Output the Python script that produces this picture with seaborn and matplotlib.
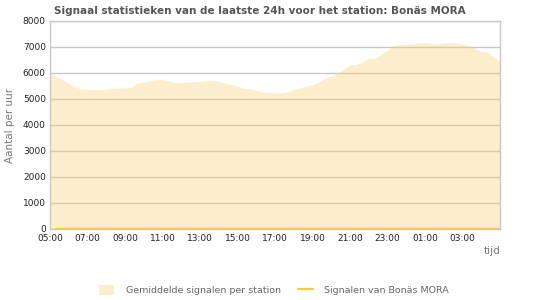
import numpy as np
import matplotlib
matplotlib.use("Agg")
import matplotlib.pyplot as plt
import seaborn as sns
from matplotlib.patches import Patch
from matplotlib.lines import Line2D
from matplotlib.ticker import MultipleLocator

# --- data: one value per 20 minutes, starting 05:00 ---
avg_signals = [
    5970, 5870, 5740, 5600, 5450, 5400, 5360, 5360, 5360, 5370, 5410, 5420,
    5420, 5460, 5620, 5650, 5710, 5740, 5740, 5700, 5650, 5630, 5650, 5670,
    5670, 5710, 5710, 5670, 5600, 5560, 5490, 5410, 5400, 5330, 5270, 5250,
    5240, 5230, 5270, 5360, 5430, 5500, 5540, 5660, 5800, 5880, 6000, 6140,
    6320, 6320, 6420, 6570, 6570, 6720, 6890, 7040, 7090, 7090, 7120, 7160,
    7160, 7140, 7120, 7160, 7160, 7160, 7110, 7050, 6950, 6830, 6800, 6600,
    6440,
]
station_signals = [0] * len(avg_signals)
hours = np.linspace(0, 24, len(avg_signals))  # hours after 05:00

tick_hours = [0, 2, 4, 6, 8, 10, 12, 14, 16, 18, 20, 22]
tick_labels = ["05:00", "07:00", "09:00", "11:00", "13:00", "15:00",
               "17:00", "19:00", "21:00", "23:00", "01:00", "03:00"]

title = "Signaal statistieken van de laatste 24h voor het station: Bonäs MORA"
avg_label = "Gemiddelde signalen per station"
station_label = "Signalen van Bonäs MORA"

# --- style ---
sns.set_style("white")
plt.rcParams["font.family"] = ["DejaVu Sans"]

fill_col = (249 / 255, 204 / 255, 109 / 255)
line_col = "#ffc933"
grid_col = "#c8c8c8"

fig = plt.figure(figsize=(5.5, 3), dpi=100)
ax = fig.add_axes([50 / 550, 1 - 229 / 300, 450 / 550, 208 / 300])

ax.set_axisbelow(True)
ax.grid(axis="y", color=grid_col, linewidth=1)
ax.fill_between(hours, avg_signals, 0, color=fill_col, alpha=0.35, linewidth=0)
sns.lineplot(x=hours[1:], y=station_signals[1:], ax=ax, color=line_col,
             linewidth=1.6, legend=False)

ax.set_xlim(0, 24)
ax.set_ylim(0, 8000)
ax.set_xticks(tick_hours)
ax.set_xticklabels(tick_labels)
ax.xaxis.set_minor_locator(MultipleLocator(0.5))
ax.yaxis.set_major_locator(MultipleLocator(1000))
ax.yaxis.set_minor_locator(MultipleLocator(500))

ax.tick_params(axis="both", which="major", labelsize=6.5, colors="#222222",
               direction="in", length=5, width=0.8, pad=3.5)
ax.tick_params(axis="both", which="minor", direction="in", length=3,
               width=0.8, colors="#222222")
ax.tick_params(axis="y", which="major", length=0, pad=3)

for s in ax.spines.values():
    s.set_color(grid_col)
    s.set_linewidth(1)

ax.set_xlabel("")
ax.set_ylabel("")

fig.text(260 / 550, 1 - 11 / 300, title, ha="center", va="center",
         fontsize=7.5, fontweight="bold", color="#555555")
fig.text(10 / 550, 1 - 125 / 300, "Aantal per uur", rotation=90,
         ha="center", va="center", fontsize=7.5, color="#777777")
fig.text(500 / 550, 1 - 251 / 300, "tijd", ha="right", va="center",
         fontsize=7.5, color="#777777")

handles = [
    Patch(facecolor=fill_col, alpha=0.35, edgecolor="none", label=avg_label),
    Line2D([0], [0], color=line_col, linewidth=1.6, label=station_label),
]
fig.legend(handles=handles, loc="center", bbox_to_anchor=(274 / 550, 1 - 290 / 300),
           ncol=2, frameon=False, fontsize=6.8, labelcolor="#666666",
           handlelength=1.6, handleheight=1.2, handletextpad=1.2,
           columnspacing=1.8)

fig.savefig("out.png", dpi=100)
